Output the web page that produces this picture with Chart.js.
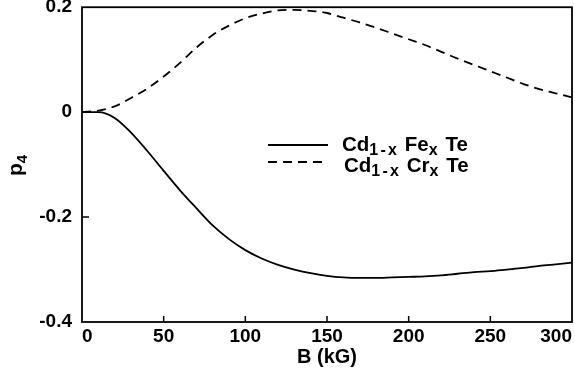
<!DOCTYPE html>
<html>
<head>
<meta charset="utf-8">
<script src="https://cdn.jsdelivr.net/npm/chart.js@4.4.1/dist/chart.umd.min.js"></script>
<style>
    html, body { margin: 0; padding: 0; background: #fff; }
    #wrap { width: 575px; height: 383px; }
</style>
</head>
<body>
<div id="wrap"><canvas id="chart"></canvas></div>
<script>
// p4 vs magnetic field
const bField   = [0, 10, 20, 30, 40, 50, 60, 70, 80, 90, 100, 110, 120, 130, 140, 150,
                  160, 170, 180, 190, 200, 210, 220, 230, 240, 250, 260, 270, 280, 290, 300];
const feValues = [0, 0, -0.011, -0.039, -0.074, -0.112, -0.149, -0.183, -0.216, -0.242, -0.263,
                  -0.279, -0.291, -0.300, -0.307, -0.312, -0.315, -0.316, -0.316, -0.315, -0.314,
                  -0.313, -0.311, -0.308, -0.305, -0.303, -0.300, -0.297, -0.293, -0.290, -0.287];
const crValues = [0, 0.003, 0.011, 0.027, 0.045, 0.068, 0.094, 0.123, 0.147, 0.165, 0.179,
                  0.188, 0.194, 0.195, 0.193, 0.189, 0.180, 0.171, 0.161, 0.150, 0.139,
                  0.128, 0.115, 0.102, 0.090, 0.078, 0.066, 0.054, 0.044, 0.036, 0.028];
const xTickMarks = [50, 100, 150, 200, 250];
const yTickMarks = [0, -0.2];

const FONT = 'Liberation Sans, Arial, Helvetica, sans-serif';
const DASH = [9, 6];

const toPoints = vals => bField.map((b, i) => ({ x: b, y: vals[i] }));

// text with subscript parts: parts = [[text, isSub], ...]
function drawSubText(ctx, parts, x, y, size, subSize, subDrop, subSpacing) {
    let cx = x;
    parts.forEach(([txt, sub]) => {
        ctx.font = `bold ${sub ? subSize : size}px ${FONT}`;
        ctx.letterSpacing = sub ? subSpacing + 'px' : '0px';
        ctx.fillText(txt, cx, sub ? y + subDrop : y);
        cx += ctx.measureText(txt).width;
    });
    ctx.letterSpacing = '0px';
}

const framePlugin = {
    id: 'frame',
    afterDraw(chart) {
        const { ctx, chartArea: a, scales } = chart;
        ctx.save();
        ctx.strokeStyle = '#000';
        ctx.fillStyle = '#000';
        ctx.lineWidth = 1.8;
        ctx.setLineDash([]);
        ctx.strokeRect(a.left, a.top, a.right - a.left, a.bottom - a.top);

        // inward ticks
        ctx.lineWidth = 1.5;
        ctx.beginPath();
        xTickMarks.forEach(v => {
            const px = scales.x.getPixelForValue(v);
            ctx.moveTo(px, a.bottom);
            ctx.lineTo(px, a.bottom - 6);
        });
        yTickMarks.forEach(v => {
            const py = scales.y.getPixelForValue(v);
            ctx.moveTo(a.left, py);
            ctx.lineTo(a.left + 7, py);
        });
        ctx.stroke();

        // y title p4
        ctx.save();
        ctx.translate(22, 166);
        ctx.rotate(-Math.PI / 2);
        ctx.textAlign = 'left';
        ctx.textBaseline = 'alphabetic';
        drawSubText(ctx, [['p', false], ['4', true]], -10, 0, 21, 15, 5, 0);
        ctx.restore();

        // legend
        ctx.lineWidth = 1.8;
        ctx.beginPath();
        ctx.moveTo(268, 145);
        ctx.lineTo(328, 145);
        ctx.stroke();
        ctx.setLineDash(DASH);
        ctx.beginPath();
        ctx.moveTo(268, 162);
        ctx.lineTo(328, 162);
        ctx.stroke();
        ctx.setLineDash([]);
        ctx.textBaseline = 'alphabetic';
        drawSubText(ctx, [['Cd', false], ['1-x', true], [' Fe', false], ['x', true], [' Te', false]],
                    342, 151, 20.5, 16, 4, 2.2);
        drawSubText(ctx, [['Cd', false], ['1-x', true], [' Cr', false], ['x', true], [' Te', false]],
                    344, 172, 20.5, 16, 4, 2.2);
        ctx.restore();
    }
};

new Chart(document.getElementById('chart'), {
    type: 'line',
    data: {
        datasets: [
            {
                label: 'Cd1-x Fex Te',
                data: toPoints(feValues),
                borderColor: '#000',
                borderWidth: 1.8,
                pointRadius: 0,
                cubicInterpolationMode: 'monotone',
                fill: false
            },
            {
                label: 'Cd1-x Crx Te',
                data: toPoints(crValues),
                borderColor: '#000',
                borderWidth: 1.8,
                borderDash: DASH,
                pointRadius: 0,
                cubicInterpolationMode: 'monotone',
                fill: false
            }
        ]
    },
    options: {
        responsive: true,
        maintainAspectRatio: false,
        animation: false,
        layout: { padding: { top: 0, right: 1, left: 0, bottom: 14 } },
        plugins: {
            legend: { display: false },
            tooltip: { enabled: false }
        },
        scales: {
            x: {
                type: 'linear',
                min: 0,
                max: 300,
                grid: { display: false, drawTicks: false, tickLength: 0 },
                border: { display: false },
                afterFit: s => { s.height = 47; },
                title: {
                    display: true,
                    text: 'B (kG)',
                    color: '#000',
                    font: { family: FONT, size: 20, weight: 'bold' },
                    padding: { top: 0, bottom: 0 }
                },
                ticks: {
                    stepSize: 50,
                    align: 'inner',
                    color: '#000',
                    padding: 3,
                    maxRotation: 0,
                    font: { family: FONT, size: 19, weight: 'bold' }
                }
            },
            y: {
                min: -0.4,
                max: 0.2,
                grid: { display: false, drawTicks: true, tickLength: 8 },
                border: { display: false },
                afterFit: s => { s.width = 82; },
                ticks: {
                    stepSize: 0.2,
                    color: '#000',
                    padding: 2,
                    font: { family: FONT, size: 19, weight: 'bold', lineHeight: 0.55 },
                    callback: v => {
                        const r = Math.round(v * 10) / 10;
                        return r === 0 ? '0' : r.toFixed(1);
                    }
                }
            }
        }
    },
    plugins: [framePlugin]
});
</script>
</body>
</html>
